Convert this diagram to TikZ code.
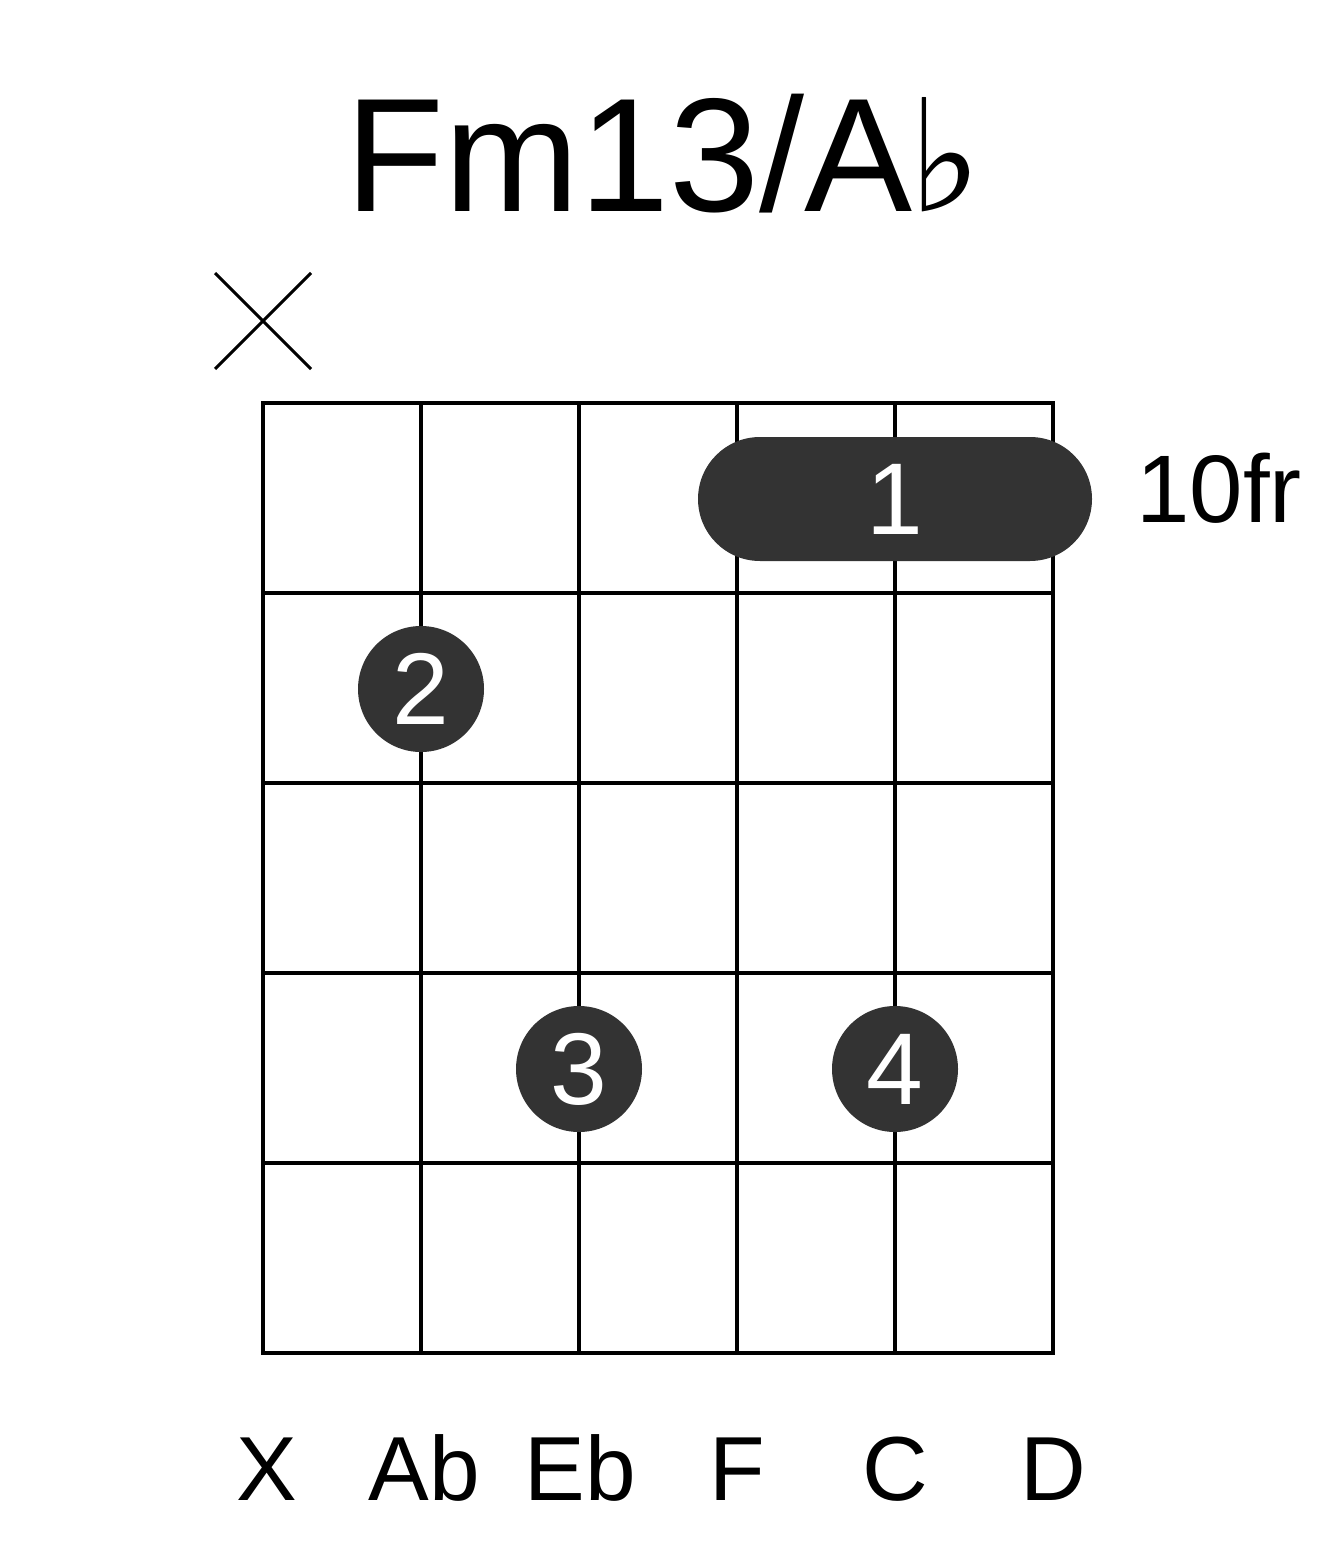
\documentclass[tikz,border=0pt]{standalone}
\usepackage{fontspec}
\setmainfont{Liberation Sans}
\newfontfamily\symfont{DejaVu Sans}
\definecolor{dotgray}{HTML}{333333}
\begin{document}
\begin{tikzpicture}[x=0.5pt,y=-0.5pt]
    \tikzset{
        finger/.style={circle,fill=dotgray,minimum size=63pt,inner sep=0pt,text=white,
            font=\fontsize{51}{51}\selectfont},
        barre/.style={rectangle,rounded corners=31pt,fill=dotgray,minimum width=197pt,
            minimum height=62pt,inner sep=0pt,text=white,font=\fontsize{51}{51}\selectfont},
        strname/.style={anchor=base,inner sep=0pt,font=\fontsize{45.5}{45.5}\selectfont}
    }
    \useasboundingbox (0,0) rectangle (1317,1551);
    % title
    \node[anchor=base,inner sep=0pt,font=\fontsize{81}{81}\selectfont] (title) at (664,212)
        {Fm13/A\hspace{-2pt}{\symfont\fontsize{78}{78}\selectfont ♭}};
    % muted string
    \draw[line width=1.5pt](215,273)--(311,369);
    \draw[line width=1.5pt](311,273)--(215,369);
    % grid
    \foreach \x in {263,421,579,737,895,1053}
    {
        \draw[line width=2pt,line cap=rect](\x,403)--(\x,1353);
    }
    \foreach \y in {403,593,783,973,1163,1353}
    {
        \draw[line width=2pt,line cap=rect](263,\y)--(1053,\y);
    }
    % fingers
    \node[barre] (b1) at (895,499) {1};
    \node[finger] (f2) at (421,689) {2};
    \node[finger] (f3) at (579,1069) {3};
    \node[finger] (f4) at (895,1069) {4};
    \node[anchor=base west,inner sep=0pt,font=\fontsize{48}{48}\selectfont] (fret) at (1136,522) {10fr};
    % string names
    \foreach \x/\n in {267/X, 424/Ab, 580/Eb, 737/F, 895/C, 1053/D}
    {
        \node[strname] (s\n) at (\x,1500) {\n};
    }
\end{tikzpicture}
\end{document}
